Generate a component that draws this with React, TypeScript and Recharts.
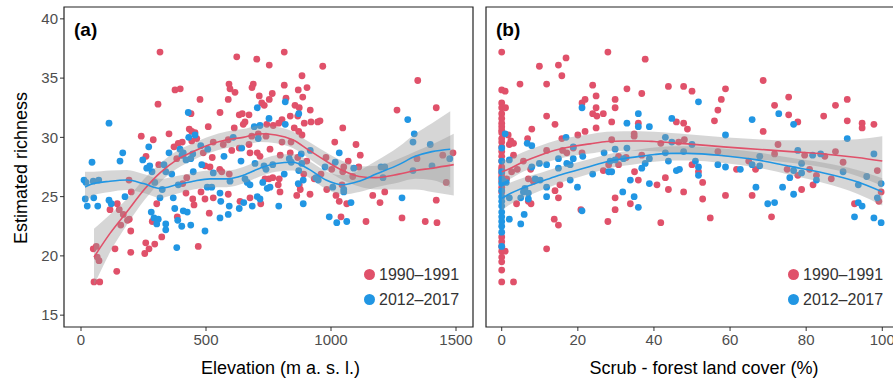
import { Area, ComposedChart, Line, ReferenceArea, Scatter, XAxis, YAxis } from 'recharts';

const RED = '#E0516A';
const BLUE = '#2196E3';
const FONT = '"Liberation Sans", Arial, sans-serif';

// ---- panel (a): elevation ----
const elevTicks = [0, 500, 1000, 1500];
const richTicks = [15, 20, 25, 30, 35, 40];

const elevOld: [number, number][] = [
  [316, 37.2], [308, 32.8], [241, 30.1], [289, 29.8], [352, 30.3], [260, 28.4], [311, 27.7], [192, 26.4], [201, 25.4],
  [145, 24.4], [116, 23.9], [153, 23.9], [169, 23.5], [193, 23.1], [186, 23.0], [159, 22.6], [199, 22.1], [303, 24.4],
  [285, 22.9], [323, 21.6], [49, 20.6], [61, 20.8], [65, 19.9], [72, 19.6], [136, 20.6], [199, 20.3], [259, 21.1],
  [272, 20.6], [295, 21.0], [255, 20.2], [143, 18.7], [52, 17.8], [75, 17.8],
  [623, 36.8], [703, 36.6], [753, 36.1], [376, 34.0], [397, 34.1], [476, 33.2], [592, 34.5], [596, 34.1], [616, 33.8],
  [589, 33.2], [689, 34.5], [684, 34.2], [713, 33.5], [753, 33.2], [723, 32.9], [733, 32.7], [765, 33.7], [556, 32.1],
  [440, 32.0], [433, 30.7], [443, 30.5], [456, 30.4], [463, 29.9], [443, 29.7], [389, 29.5], [405, 29.6], [372, 29.2],
  [509, 30.9], [529, 29.6], [569, 29.4], [589, 29.8], [633, 31.9], [645, 32.0], [672, 31.9], [656, 31.3], [649, 31.1],
  [613, 30.8], [683, 30.1], [709, 30.3], [743, 31.1], [769, 31.0], [740, 30.1], [603, 28.9], [633, 29.1], [672, 29.4],
  [676, 28.7], [705, 28.7], [716, 28.4], [756, 29.0], [383, 28.2], [407, 28.5], [489, 28.7], [525, 28.3], [516, 27.5],
  [496, 27.6], [563, 27.1], [555, 27.3], [593, 26.9], [423, 26.6], [407, 26.1], [420, 25.3], [447, 24.8], [452, 24.3],
  [480, 25.4], [496, 24.8], [529, 24.9], [589, 25.2], [513, 23.6], [469, 20.8], [385, 23.3], [636, 24.6], [676, 24.9],
  [719, 24.4], [736, 26.5], [752, 26.5], [767, 26.6],
  [813, 37.2], [967, 36.0], [884, 35.2], [813, 34.4], [869, 34.0], [904, 34.2], [887, 33.4], [820, 33.3], [856, 32.7],
  [873, 32.5], [917, 32.3], [837, 31.8], [867, 31.8], [893, 31.2], [920, 31.3], [947, 31.3], [956, 31.4], [804, 31.5],
  [791, 31.2], [853, 30.8], [871, 30.5], [884, 30.2], [804, 29.6], [840, 29.6], [1047, 30.8], [1100, 29.4], [1117, 28.5],
  [1015, 29.6], [1069, 28.0], [980, 28.3], [1111, 27.5], [1051, 27.5], [793, 26.5], [789, 26.0], [796, 25.4], [873, 26.0],
  [877, 25.6], [863, 25.1], [916, 25.2], [1033, 24.6], [1063, 24.4], [1040, 23.3], [1140, 22.9], [1196, 24.5],
  [797, 28.5], [837, 28.7], [867, 28.3], [903, 28.0], [891, 26.9], [933, 26.5], [960, 26.9], [1003, 27.3], [1047, 27.1],
  [1087, 26.7], [983, 25.6], [1020, 25.1], [1044, 26.0], [1167, 25.1],
  [1347, 34.8], [1264, 32.3], [1421, 32.5], [1488, 28.7], [1447, 28.5], [1344, 28.2], [1461, 26.2], [1215, 25.4],
  [1421, 24.7], [1284, 23.2], [1377, 22.9], [1424, 22.8],
];

const elevNew: [number, number][] = [
  [112, 31.2], [44, 27.9], [167, 28.7], [156, 28.0], [271, 29.2], [247, 28.1], [263, 27.4], [275, 27.6], [284, 27.1],
  [332, 27.7], [339, 27.1], [352, 28.7], [12, 26.4], [20, 26.2], [49, 26.3], [71, 26.4], [17, 24.8], [25, 24.2],
  [51, 24.9], [67, 24.2], [112, 24.7], [121, 24.4], [176, 25.0], [295, 26.2], [325, 25.6], [316, 24.9], [281, 23.7],
  [292, 23.2], [309, 23.1], [303, 22.7], [339, 22.7], [339, 22.2],
  [429, 32.1], [752, 31.6], [705, 32.5], [456, 30.2], [431, 30.0], [396, 29.0], [409, 28.7], [404, 28.5], [420, 28.1],
  [439, 28.2], [447, 28.6], [479, 29.3], [507, 29.0], [572, 28.4], [609, 30.0], [643, 29.1], [693, 30.9], [716, 31.0],
  [709, 29.9], [483, 27.7], [449, 27.1], [529, 27.0], [640, 28.0], [696, 27.8], [732, 27.6], [740, 27.3], [767, 27.7],
  [363, 26.9], [389, 26.0], [505, 25.8], [523, 25.8], [596, 26.3], [656, 26.5], [665, 26.2], [676, 26.0], [727, 26.2],
  [745, 25.7], [756, 25.8], [556, 25.3], [369, 24.9], [559, 24.6], [593, 24.2], [633, 24.0], [651, 24.5], [685, 24.2],
  [705, 25.0], [716, 24.8], [375, 24.0], [409, 23.8], [425, 23.7], [387, 23.0], [403, 22.5], [439, 22.6], [556, 23.2],
  [589, 23.5], [496, 22.1], [383, 20.7],
  [817, 33.0], [871, 32.0], [817, 31.1], [917, 28.9], [1033, 28.7], [881, 28.6], [833, 28.2], [841, 27.9], [883, 27.8],
  [1017, 27.9], [976, 27.5], [1091, 27.4], [1200, 27.5], [871, 27.2], [813, 26.9], [940, 26.6], [949, 26.4], [889, 26.4],
  [869, 26.1], [1007, 25.8], [1051, 25.6], [1051, 25.4], [791, 24.2], [889, 24.4], [1080, 24.5], [993, 23.3], [1023, 22.8],
  [1063, 22.9],
  [1307, 31.5], [1333, 30.3], [1328, 29.6], [1397, 29.4], [1475, 28.2], [1215, 27.5], [1328, 27.2], [1404, 27.6],
  [1208, 26.6], [1284, 24.9],
];

const elevOldFitX = [52, 116, 183, 253, 316, 383, 449, 516, 583, 649, 716, 780, 847, 913, 980, 1047, 1113, 1180, 1271, 1337, 1404, 1491];
const elevOldFitY = [19.9, 21.9, 23.7, 25.6, 27.0, 28.1, 28.8, 29.4, 29.8, 30.0, 30.3, 30.2, 29.8, 28.9, 28.0, 27.2, 26.7, 26.6, 26.9, 27.2, 27.4, 27.7];
const elevOldFitSe = [2.4, 1.6, 1.1, 0.9, 0.8, 0.75, 0.7, 0.7, 0.7, 0.7, 0.7, 0.7, 0.7, 0.7, 0.75, 0.8, 0.85, 1.0, 1.3, 1.6, 2.0, 2.6];

const elevNewFitX = [16, 49, 116, 183, 250, 316, 383, 449, 516, 583, 649, 716, 780, 847, 913, 980, 1047, 1113, 1180, 1271, 1337, 1404, 1477];
const elevNewFitY = [25.8, 26.1, 26.3, 26.4, 26.1, 25.7, 26.0, 26.3, 26.5, 26.5, 26.8, 27.4, 27.8, 27.9, 27.3, 26.4, 26.0, 26.3, 26.9, 27.7, 28.4, 28.8, 29.0];
const elevNewFitSe = [1.3, 1.0, 0.9, 0.85, 0.8, 0.8, 0.75, 0.7, 0.7, 0.7, 0.7, 0.7, 0.7, 0.7, 0.7, 0.75, 0.8, 0.9, 1.1, 1.5, 1.9, 2.4, 3.2];

// ---- panel (b): scrub - forest cover ----
const coverTicks = [0, 20, 40, 60, 80, 100];

const coverOld: [number, number][] = [
  [0, 37.2], [0, 34.0], [0, 32.9], [0, 32.5], [0, 32.0], [0, 31.6], [0, 31.2], [0, 30.9], [0, 30.6], [0, 30.4], [0, 29.9],
  [0, 29.6], [0, 29.2], [0, 28.8], [0, 28.4], [0, 28.0], [0, 27.5], [0, 27.3], [0, 27.0], [0, 26.7], [0, 26.3], [0, 25.8],
  [0, 25.4], [0, 21.6], [0, 21.2], [0, 20.8], [0, 20.4], [0, 19.9], [0, 19.5], [0, 18.8], [0, 17.8],
  [0.9, 33.9], [1.0, 32.5], [0.9, 20.4],
  [9.9, 36.0], [14.9, 36.1], [16.9, 36.7], [15.8, 35.2], [4.8, 34.5], [11.8, 34.5], [11.8, 31.8], [14.0, 31.1], [7.9, 30.7],
  [21.1, 32.9], [21.9, 33.2], [1.7, 30.2], [2.4, 29.7], [3.1, 29.5], [2.0, 29.4], [6.8, 29.9], [15.8, 29.9], [20.0, 30.2],
  [21.9, 30.5], [3.1, 28.5], [5.7, 28.0], [11.8, 28.9], [16.0, 28.9], [17.1, 28.7], [18.8, 29.1], [21.1, 28.7], [4.1, 27.3],
  [2.6, 27.1], [7.6, 27.3], [7.0, 26.5], [8.3, 26.3], [1.3, 26.5], [14.0, 25.5], [15.3, 26.0], [14.9, 24.9], [3.9, 24.4],
  [7.0, 24.6], [7.7, 24.4], [20.8, 23.9], [13.8, 23.1], [14.9, 22.6], [11.8, 20.6], [3.1, 17.8],
  [27.9, 37.2], [37.7, 36.6], [23.9, 34.4], [24.8, 33.5], [32.9, 34.1], [36.8, 33.7], [29.8, 33.2], [29.8, 32.5], [24.8, 32.5],
  [43.8, 34.3], [47.8, 34.3], [23.9, 32.0], [25.0, 31.8], [26.7, 32.0], [28.9, 31.3], [24.8, 30.8], [35.9, 31.2], [45.9, 31.3],
  [47.8, 31.2], [48.8, 30.7], [34.8, 30.3], [34.8, 30.1], [28.9, 29.8], [41.8, 29.5], [46.5, 29.6], [48.0, 29.8], [30.7, 28.4],
  [28.1, 27.7], [32.7, 28.3], [36.8, 28.5], [30.7, 27.7], [26.7, 27.2], [34.9, 27.1], [35.9, 26.4], [40.8, 26.0], [43.0, 26.6],
  [43.8, 25.6], [47.8, 25.4], [29.8, 24.9], [29.8, 23.9], [33.8, 24.4], [27.9, 22.9], [41.8, 22.8],
  [68.7, 34.8], [50.0, 33.9], [58.8, 34.1], [57.7, 33.2], [56.8, 32.3], [55.9, 31.4], [71.7, 32.7], [75.4, 33.4], [75.4, 31.9],
  [68.7, 30.5], [72.6, 29.4], [71.7, 28.6], [56.8, 28.8], [64.9, 28.0], [66.7, 27.3], [75.0, 27.3], [50.0, 27.7], [51.7, 27.1],
  [61.7, 27.3], [52.8, 26.2], [52.8, 24.8], [58.8, 25.1], [65.8, 25.1], [54.8, 23.2], [70.9, 23.3],
  [90.8, 33.2], [87.7, 32.7], [84.6, 31.8], [90.8, 31.4], [94.7, 31.2], [94.7, 30.8], [97.8, 31.1], [77.8, 31.3], [79.6, 28.5],
  [84.9, 28.4], [87.7, 28.8], [89.7, 27.9], [98.7, 27.2], [77.8, 26.8], [80.9, 27.3], [82.7, 26.8], [86.6, 26.5], [81.8, 26.0],
  [78.8, 25.6], [92.7, 24.4], [99.7, 25.4], [99.1, 24.6],
];

const coverNew: [number, number][] = [
  [0, 29.1], [0, 28.0], [0, 27.1], [0, 26.5], [0, 26.1], [0, 25.5], [0, 25.0], [0, 24.6], [0, 24.2], [0, 23.7], [0, 23.3],
  [0, 22.9], [0, 22.5], [0, 22.0], [0, 20.8], [0.9, 30.3], [0.4, 26.3], [1.2, 26.2],
  [21.1, 32.5], [16.9, 30.0], [6.7, 29.5], [7.9, 29.3], [18.8, 29.2], [2.0, 28.1], [9.9, 27.8], [11.8, 27.7], [14.9, 28.2],
  [17.1, 27.8], [18.0, 27.7], [18.8, 28.2], [21.3, 28.4], [14.9, 27.4], [7.9, 27.5], [8.8, 26.5], [10.1, 26.4], [18.0, 26.4],
  [19.9, 25.8], [11.8, 25.8], [6.1, 25.7], [5.7, 25.4], [7.0, 25.3], [2.0, 24.9], [5.0, 24.9], [11.8, 25.0], [7.0, 24.8],
  [21.1, 23.8], [2.0, 23.1], [5.9, 23.5], [5.0, 22.7],
  [35.9, 32.0], [32.9, 31.2], [35.9, 30.9], [38.8, 30.9], [44.7, 31.6], [43.0, 30.0], [44.7, 29.6], [32.9, 29.1], [29.8, 29.0],
  [26.9, 28.7], [43.0, 28.7], [47.8, 28.8], [29.8, 28.1], [32.0, 28.2], [38.8, 28.2], [37.7, 27.8], [43.8, 28.0], [36.8, 27.4],
  [28.5, 28.0], [28.9, 27.1], [28.1, 27.1], [23.9, 26.9], [45.9, 27.2], [46.7, 27.3], [33.8, 26.4], [38.8, 26.1], [31.8, 25.4],
  [34.8, 25.0], [35.9, 24.1],
  [51.7, 33.0], [65.8, 31.5], [72.8, 32.0], [58.8, 30.2], [50.0, 29.4], [50.9, 28.0], [51.7, 27.5], [51.7, 26.8], [56.8, 27.7],
  [58.8, 27.5], [62.7, 27.3], [65.8, 27.7], [67.8, 28.4], [67.8, 27.6], [66.8, 25.8], [73.8, 25.8], [75.7, 26.6], [69.9, 24.4],
  [71.7, 24.5],
  [76.7, 31.1], [90.8, 29.9], [97.8, 28.6], [77.8, 28.9], [81.7, 28.5], [83.8, 28.6], [78.8, 27.8], [78.8, 27.0], [76.7, 27.2],
  [89.7, 27.1], [95.9, 26.7], [82.7, 26.4], [93.7, 26.0], [99.7, 26.1], [98.7, 24.9], [76.7, 25.2], [93.7, 24.5], [94.7, 24.2],
  [92.7, 23.3], [97.8, 23.2], [99.7, 22.8],
];

const coverFitX = [0, 1.3, 5.7, 10.1, 14.5, 18.8, 23.2, 27.6, 32, 36.4, 40.1, 44.5, 48.8, 58.3, 67.1, 75.9, 84.6, 93.4, 100];
const coverOldFitY = [27.1, 27.25, 27.95, 28.5, 28.95, 29.25, 29.45, 29.65, 29.7, 29.7, 29.65, 29.55, 29.45, 29.2, 29.0, 28.8, 28.6, 28.3, 28.0];
const coverOldFitSe = [0.9, 0.88, 0.82, 0.8, 0.8, 0.8, 0.82, 0.82, 0.82, 0.82, 0.82, 0.82, 0.82, 0.82, 0.85, 0.95, 1.15, 1.55, 2.1];
const coverNewFitY = [24.85, 25.1, 25.75, 26.25, 26.75, 27.15, 27.55, 27.95, 28.2, 28.4, 28.55, 28.65, 28.65, 28.45, 28.1, 27.55, 27.0, 26.25, 25.4];
const coverNewFitSe = [1.0, 0.95, 0.85, 0.75, 0.7, 0.65, 0.62, 0.6, 0.6, 0.6, 0.6, 0.6, 0.6, 0.62, 0.65, 0.72, 0.85, 1.0, 1.15];

const toPts = (pts: [number, number][]) => pts.map(([x, y]) => ({ x, y }));
const toFit = (xs: number[], ys: number[], se: number[]) =>
  xs.map((x, i) => ({ x, y: ys[i], band: [ys[i] - se[i], ys[i] + se[i]] }));

const tickStyle = { fill: '#4D4D4D', fontSize: 15, fontFamily: FONT };

function dot(color: string) {
  return (p: any) => <circle cx={p.cx} cy={p.cy} r={3.4} fill={color} />;
}

type PanelProps = {
  left: number;
  width: number;
  yAxisWidth: number;
  xDomain: [number, number];
  xTicks: number[];
  showYLabels: boolean;
  xTitle: string;
  oldPts: [number, number][];
  newPts: [number, number][];
  oldFit: { x: number; y: number; band: number[] }[];
  newFit: { x: number; y: number; band: number[] }[];
  tag: string;
  legendLeft: number;
};

function Panel(props: PanelProps) {
  const { left, width, yAxisWidth, xDomain, xTicks, showYLabels, xTitle, oldFit, newFit } = props;
  const plotW = xDomain === undefined ? 0 : 0;
  void plotW;
  return (
    <div style={{ position: 'absolute', left, top: 0 }}>
      <ComposedChart width={width} height={382} margin={{ top: 7, right: props.left === 0 ? 7 : 2, left: 0, bottom: 0 }}>
        <XAxis
          type="number"
          dataKey="x"
          domain={xDomain}
          ticks={xTicks}
          allowDataOverflow
          height={55}
          axisLine={false}
          tickSize={4}
          tickMargin={3}
          tickLine={{ stroke: '#333' }}
          tick={tickStyle}
          interval={0}
          label={(lp: any) => {
            const vb = lp.viewBox || { x: 0, y: 327, width: 0 };
            return (
              <text x={vb.x + vb.width / 2 + 12} y={vb.y + 47} textAnchor="middle" fontSize={18} fontFamily={FONT} fill="#000">
                {xTitle}
              </text>
            );
          }}
        />
        <YAxis
          type="number"
          domain={[14, 41]}
          ticks={richTicks}
          allowDataOverflow
          width={yAxisWidth}
          axisLine={false}
          tickSize={4}
          tickMargin={2}
          tickLine={{ stroke: '#333' }}
          tick={showYLabels ? tickStyle : false}
          interval={0}
          label={
            showYLabels
              ? (lp: any) => {
                  const vb = lp.viewBox || { x: 0, y: 7, height: 320 };
                  const cx = vb.x + 21;
                  const cy = vb.y + vb.height / 2 + 1;
                  return (
                    <text x={cx} y={cy} transform={`rotate(-90, ${cx}, ${cy})`} textAnchor="middle" dominantBaseline="central" fontSize={18} fontFamily={FONT} fill="#000">
                      Estimated richness
                    </text>
                  );
                }
              : undefined
          }
        />
        <Scatter data={toPts(props.oldPts)} dataKey="y" shape={dot(RED)} isAnimationActive={false} />
        <Scatter data={toPts(props.newPts)} dataKey="y" shape={dot(BLUE)} isAnimationActive={false} />
        <Area data={oldFit} dataKey="band" type="monotone" stroke="none" fill="#999999" fillOpacity={0.4} isAnimationActive={false} zIndex={650} />
        <Area data={newFit} dataKey="band" type="monotone" stroke="none" fill="#999999" fillOpacity={0.4} isAnimationActive={false} zIndex={650} />
        <Line data={oldFit} dataKey="y" type="monotone" stroke={RED} strokeWidth={1.6} dot={false} activeDot={false} isAnimationActive={false} zIndex={700} />
        <Line data={newFit} dataKey="y" type="monotone" stroke={BLUE} strokeWidth={1.6} dot={false} activeDot={false} isAnimationActive={false} zIndex={700} />
        <ReferenceArea x1={xDomain[0]} x2={xDomain[1]} y1={14} y2={41} fill="none" stroke="#222" strokeWidth={1.2} zIndex={800} />
      </ComposedChart>
      <div style={{ position: 'absolute', left: yAxisWidth + 10, top: 20, fontFamily: FONT, fontWeight: 'bold', fontSize: 19, lineHeight: '20px', color: '#000' }}>
        {props.tag}
      </div>
      <div style={{ position: 'absolute', left: props.legendLeft, top: 262, fontFamily: FONT, fontSize: 16, color: '#333' }}>
        {[
          ['1990–1991', RED],
          ['2012–2017', BLUE],
        ].map(([label, color]) => (
          <div key={label} style={{ display: 'flex', alignItems: 'center', height: 25 }}>
            <span style={{ width: 11, height: 11, borderRadius: '50%', background: color, marginRight: 4, display: 'inline-block' }} />
            <span>{label}</span>
          </div>
        ))}
      </div>
    </div>
  );
}

export default function App() {
  return (
    <div style={{ position: 'absolute', left: 0, top: 0, width: 893, height: 382, overflow: 'hidden', background: '#fff' }}>
      <Panel
        left={0}
        width={480}
        yAxisWidth={64}
        xDomain={[-68, 1568]}
        xTicks={elevTicks}
        showYLabels
        xTitle="Elevation (m a. s. l.)"
        oldPts={elevOld}
        newPts={elevNew}
        oldFit={toFit(elevOldFitX, elevOldFitY, elevOldFitSe)}
        newFit={toFit(elevNewFitX, elevNewFitY, elevNewFitSe)}
        tag="(a)"
        legendLeft={364}
      />
      <Panel
        left={480}
        width={420}
        yAxisWidth={6}
        xDomain={[-4.13, 104.13]}
        xTicks={coverTicks}
        showYLabels={false}
        xTitle="Scrub - forest land cover (%)"
        oldPts={coverOld}
        newPts={coverNew}
        oldFit={toFit(coverFitX, coverOldFitY, coverOldFitSe)}
        newFit={toFit(coverFitX, coverNewFitY, coverNewFitSe)}
        tag="(b)"
        legendLeft={308}
      />
    </div>
  );
}
